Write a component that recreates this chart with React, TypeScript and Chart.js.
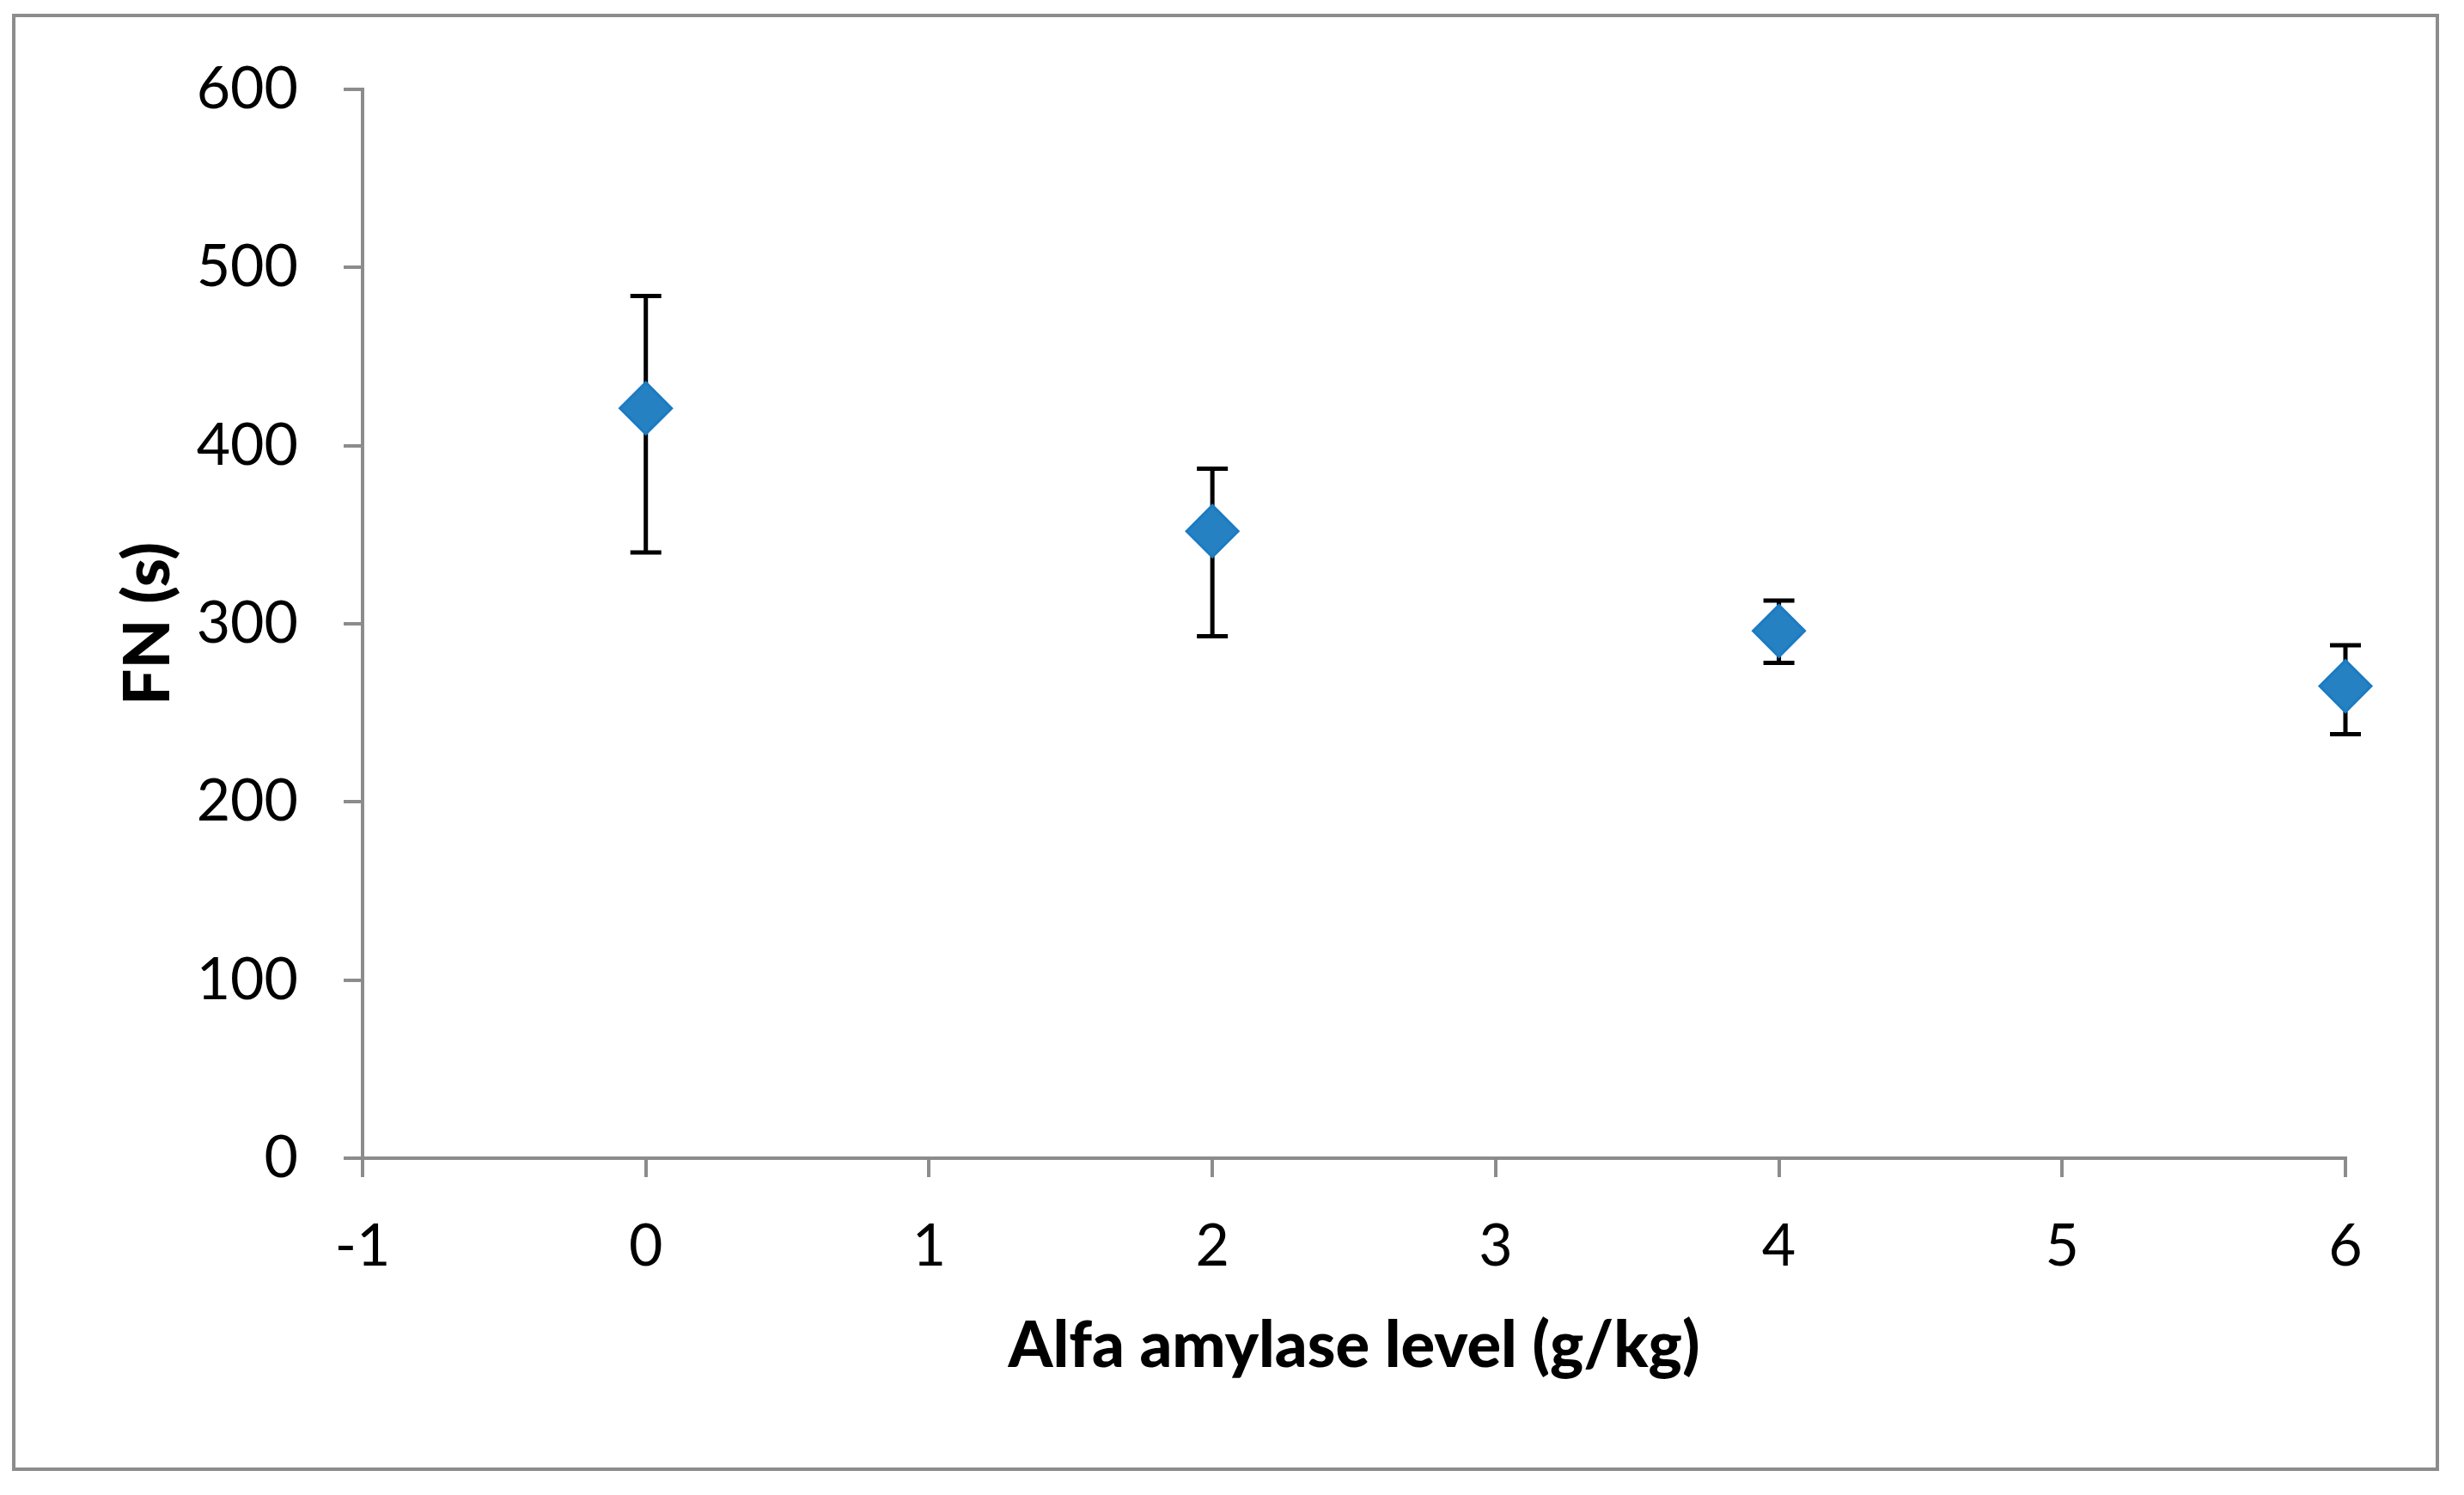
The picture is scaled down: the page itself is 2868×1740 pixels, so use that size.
import React, { useEffect, useRef } from "react";
import { Chart, registerables } from "chart.js";

Chart.register(...registerables);

const levels = [0, 2, 4, 6];
const fnMeans = [421, 352, 296, 265];
const fnUpper = [484, 387, 313, 288];
const fnLower = [340, 293, 278, 238];

const xTitle = "Alfa amylase level (g/kg)";
const yTitle = "FN (s)";

const FONT = "Lato, 'Open Sans', sans-serif";
const AXIS_GRAY = "#8c8c8c";

const errorBarPlugin = {
  id: "errorBars",
  beforeDatasetsDraw(chart: any) {
    const { ctx, scales } = chart;
    const xs = scales.x;
    const ys = scales.y;
    ctx.save();
    ctx.strokeStyle = "#000000";
    ctx.lineWidth = 5;
    ctx.lineCap = "butt";
    const cap = 18;
    for (let i = 0; i < levels.length; i++) {
      const px = xs.getPixelForValue(levels[i]);
      const top = ys.getPixelForValue(fnUpper[i]);
      const bot = ys.getPixelForValue(fnLower[i]);
      ctx.beginPath();
      ctx.moveTo(px, top);
      ctx.lineTo(px, bot);
      ctx.moveTo(px - cap, top);
      ctx.lineTo(px + cap, top);
      ctx.moveTo(px - cap, bot);
      ctx.lineTo(px + cap, bot);
      ctx.stroke();
    }
    ctx.restore();
  },
};

const borderPlugin = {
  id: "outerBorder",
  afterDraw(chart: any) {
    const { ctx } = chart;
    ctx.save();
    ctx.strokeStyle = AXIS_GRAY;
    ctx.lineWidth = 4;
    ctx.strokeRect(16, 18, 2837 - 16, 1710 - 18);
    ctx.restore();
  },
};

export default function App() {
  const canvasRef = useRef<HTMLCanvasElement | null>(null);

  useEffect(() => {
    const canvas = canvasRef.current;
    if (!canvas) return;
    const chart = new Chart(canvas, {
      type: "scatter",
      data: {
        datasets: [
          {
            label: "FN",
            data: levels.map((x, i) => ({ x, y: fnMeans[i] })),
            pointStyle: "rectRot",
            pointRadius: 30,
            pointHoverRadius: 30,
            backgroundColor: "#2581C1",
            borderColor: "#1B7BC3",
            borderWidth: 3,
            showLine: false,
            clip: false,
          },
        ],
      },
      options: {
        responsive: false,
        animation: false,
        events: [],
        layout: { padding: { left: 0, top: 104, right: 138, bottom: 0 } },
        plugins: {
          legend: { display: false },
          tooltip: { enabled: false },
        },
        scales: {
          x: {
            type: "linear",
            min: -1,
            max: 6,
            afterFit: (s: any) => {
              s.height = 1740 - 1348;
            },
            ticks: {
              stepSize: 1,
              color: "#000000",
              padding: 40,
              font: { family: FONT, size: 68 },
            },
            grid: {
              drawOnChartArea: false,
              drawTicks: true,
              tickLength: 22,
              color: AXIS_GRAY,
              lineWidth: 4,
            },
            border: { display: true, color: AXIS_GRAY, width: 4 },
            title: {
              display: true,
              text: xTitle,
              color: "#000000",
              font: { family: FONT, size: 74, weight: "900" },
              padding: { top: 0, bottom: 128 },
            },
          },
          y: {
            type: "linear",
            min: 0,
            max: 600,
            afterFit: (s: any) => {
              s.width = 422;
            },
            ticks: {
              stepSize: 100,
              color: "#000000",
              padding: 53,
              font: { family: FONT, size: 68 },
            },
            grid: {
              drawOnChartArea: false,
              drawTicks: true,
              tickLength: 22,
              color: AXIS_GRAY,
              lineWidth: 4,
            },
            border: { display: true, color: AXIS_GRAY, width: 4 },
            title: {
              display: true,
              text: yTitle,
              color: "#000000",
              font: { family: FONT, size: 75, weight: "900" },
              padding: { top: 128, bottom: 0 },
            },
          },
        },
      },
      plugins: [errorBarPlugin, borderPlugin],
    });
    return () => chart.destroy();
  }, []);

  return (
    <div
      style={{
        position: "fixed",
        left: 0,
        top: 0,
        width: 2868,
        height: 1740,
        background: "#ffffff",
      }}
    >
      <canvas ref={canvasRef} width={2868} height={1740} style={{ display: "block" }} />
    </div>
  );
}
